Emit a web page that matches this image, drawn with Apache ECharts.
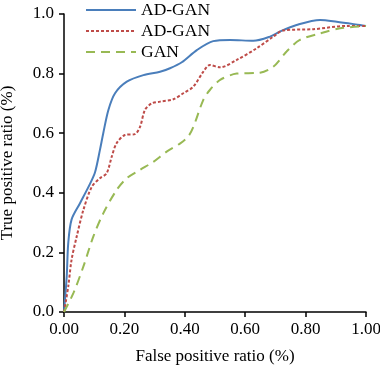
<!DOCTYPE html>
<html>
<head>
<meta charset="utf-8">
<script src="https://cdn.jsdelivr.net/npm/echarts@6/dist/echarts.min.js"></script>
<style>
  html, body { margin: 0; padding: 0; background: #fff; }
  #main { width: 380px; height: 373px; }
</style>
</head>
<body>
<div id="main"></div>
<script>
// legend labels (second one carries a trailing space so both AD-GAN entries stay distinct)
var seriesNames = ['AD-GAN', 'AD-GAN ', 'GAN'];

// [false positive ratio, true positive ratio]
var adGanSolid = [
  [0, 0], [0.009, 0.12], [0.014, 0.23], [0.025, 0.31], [0.053, 0.365],
  [0.086, 0.43], [0.103, 0.47], [0.119, 0.544], [0.13, 0.6], [0.147, 0.678],
  [0.169, 0.734], [0.208, 0.773], [0.263, 0.795], [0.318, 0.806], [0.351, 0.818],
  [0.39, 0.838], [0.44, 0.879], [0.494, 0.909], [0.55, 0.913], [0.627, 0.91],
  [0.682, 0.924], [0.715, 0.941], [0.77, 0.963], [0.848, 0.98], [0.903, 0.974],
  [0.98, 0.963], [1.0, 0.96]
];
var adGanDashed = [
  [0, 0], [0.014, 0.085], [0.025, 0.175], [0.042, 0.253], [0.064, 0.342],
  [0.092, 0.42], [0.119, 0.449], [0.141, 0.465], [0.158, 0.521], [0.174, 0.566],
  [0.202, 0.594], [0.235, 0.597], [0.252, 0.622], [0.268, 0.678], [0.29, 0.7],
  [0.318, 0.706], [0.362, 0.714], [0.395, 0.734], [0.428, 0.756], [0.461, 0.806],
  [0.483, 0.829], [0.517, 0.821], [0.572, 0.846], [0.638, 0.885], [0.693, 0.924],
  [0.726, 0.945], [0.826, 0.949], [0.936, 0.96], [1.0, 0.96]
];
var ganDashed = [
  [0, 0], [0.031, 0.063], [0.064, 0.152], [0.097, 0.253], [0.13, 0.331],
  [0.174, 0.409], [0.208, 0.449], [0.252, 0.477], [0.296, 0.504], [0.34, 0.538],
  [0.385, 0.566], [0.412, 0.59], [0.428, 0.62], [0.461, 0.711], [0.483, 0.745],
  [0.517, 0.779], [0.572, 0.8], [0.649, 0.803], [0.693, 0.823], [0.737, 0.874],
  [0.781, 0.913], [0.848, 0.935], [0.914, 0.952], [1.0, 0.96]
];

var font = 'Liberation Serif';
var chart = echarts.init(document.getElementById('main'));

var option = {
  backgroundColor: '#ffffff',
  animation: false,
  textStyle: { fontFamily: font, color: '#000' },
  grid: { left: 64, right: 14, top: 14, bottom: 61, outerBoundsMode: 'none', containLabel: false },
  legend: {
    orient: 'vertical',
    left: 85,
    top: 1,
    padding: 0,
    itemWidth: 50,
    itemHeight: 14,
    itemGap: 3,
    textStyle: { fontFamily: font, fontSize: 17.5, color: '#000' },
    data: seriesNames.map(function (n) { return { name: n, itemStyle: { opacity: 0 } }; }),
    formatter: function (n) { return n.trim(); }
  },
  xAxis: {
    type: 'value',
    min: 0, max: 1, interval: 0.2,
    name: 'False positive ratio (%)',
    nameLocation: 'middle',
    nameGap: 36,
    nameTextStyle: { fontFamily: font, fontSize: 17, color: '#000' },
    axisLine: { lineStyle: { color: '#000', width: 1.5 } },
    axisTick: { show: true, inside: false, length: 5, lineStyle: { color: '#000', width: 1.5 } },
    axisLabel: { fontFamily: font, fontSize: 17, color: '#000', margin: 9,
      formatter: function (v) { return v.toFixed(2); } },
    splitLine: { show: false }
  },
  yAxis: {
    type: 'value',
    min: 0, max: 1, interval: 0.2,
    name: 'True positive ratio (%)',
    nameLocation: 'middle',
    nameGap: 48,
    nameRotate: 90,
    nameTextStyle: { fontFamily: font, fontSize: 17, color: '#000' },
    axisLine: { show: true, lineStyle: { color: '#000', width: 1.5 } },
    axisTick: { show: true, inside: false, length: 5, lineStyle: { color: '#000', width: 1.5 } },
    axisLabel: { fontFamily: font, fontSize: 17, color: '#000', margin: 10,
      formatter: function (v) { return v.toFixed(1); } },
    splitLine: { show: false }
  },
  series: [
    {
      name: seriesNames[0], type: 'line', data: adGanSolid, smooth: 0.3,
      symbol: 'none', color: '#4A7EBB',
      lineStyle: { color: '#4A7EBB', width: 2, type: 'solid' }
    },
    {
      name: seriesNames[1], type: 'line', data: adGanDashed, smooth: 0.3,
      symbol: 'none', color: '#BE4B48',
      lineStyle: { color: '#BE4B48', width: 2, type: [3, 2] }
    },
    {
      name: seriesNames[2], type: 'line', data: ganDashed, smooth: 0.3,
      symbol: 'none', color: '#98B954',
      lineStyle: { color: '#98B954', width: 2, type: [9, 6] }
    }
  ]
};

chart.setOption(option);
</script>
</body>
</html>
